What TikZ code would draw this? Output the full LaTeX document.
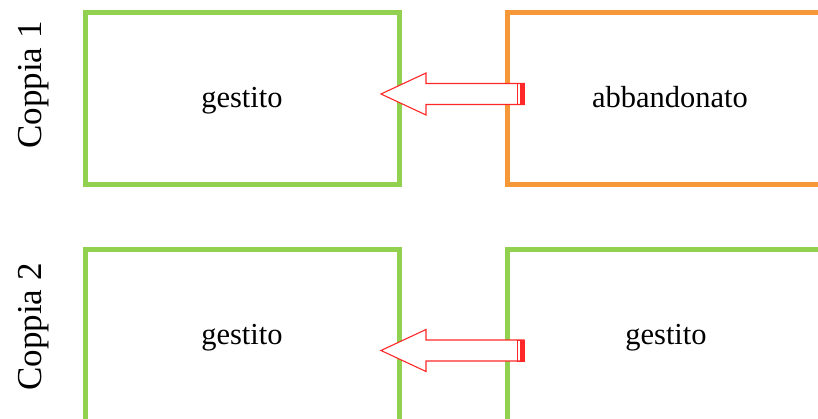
\documentclass[tikz,border=0pt]{standalone}
\usepackage{fontspec}
\setmainfont{Liberation Serif}
\definecolor{boxgreen}{RGB}{146,208,80}
\definecolor{boxorange}{RGB}{247,152,56}
\definecolor{arrred}{RGB}{255,40,40}
\begin{document}
\begin{tikzpicture}[x=1pt,y=-1pt,
  statebox/.style={draw=#1,line width=5pt,fill=none},
  boxtext/.style={font=\fontsize{30.5}{36}\selectfont,anchor=base,inner sep=0pt},
  pairlabel/.style={font=\fontsize{35}{40}\selectfont,anchor=base,rotate=90,inner sep=0pt},
  blockarrow/.style={draw=arrred,line width=1.1pt,fill=white,line join=miter}]
\useasboundingbox (0,0) rectangle (818,419);
\begin{scope}
\clip (0,0) rectangle (818,419);
% boxes
\draw[statebox=boxgreen] (85.5,12.5) rectangle (399.5,184.5);
\draw[statebox=boxorange] (507.5,12.5) rectangle (821.5,184.5);
\draw[statebox=boxgreen] (85.5,249.5) rectangle (399.5,421.5);
\draw[statebox=boxgreen] (507.5,249.5) rectangle (821.5,421.5);
\end{scope}
% box texts
\node[boxtext] (g1) at (242,108) {gestito};
\node[boxtext] (a1) at (670,108) {abbandonato};
\node[boxtext] (g2) at (242,344) {gestito};
\node[boxtext] (g3) at (666,344) {gestito};
% pair labels
\node[pairlabel] (c1) at (41,85) {Coppia 1};
\node[pairlabel] (c2) at (41,327) {Coppia 2};
% block arrows
\foreach \cy/\nm in {94/arrA,350.5/arrB}{
  \coordinate (\nm) at (381,\cy);
  \draw[blockarrow] (\nm) -- ++(45,-21) -- ++(0,10.5) -- ++(98,0) -- ++(0,21) -- ++(-98,0) -- ++(0,10.5) -- cycle;
  \draw[draw=arrred,line width=0.7pt] ([xshift=136pt,yshift=-10.5pt]\nm) rectangle ([xshift=143pt,yshift=10.5pt]\nm);
  \fill[arrred] ([xshift=139pt,yshift=-10.5pt]\nm) rectangle ([xshift=143pt,yshift=10.5pt]\nm);
}
\end{tikzpicture}
\end{document}
